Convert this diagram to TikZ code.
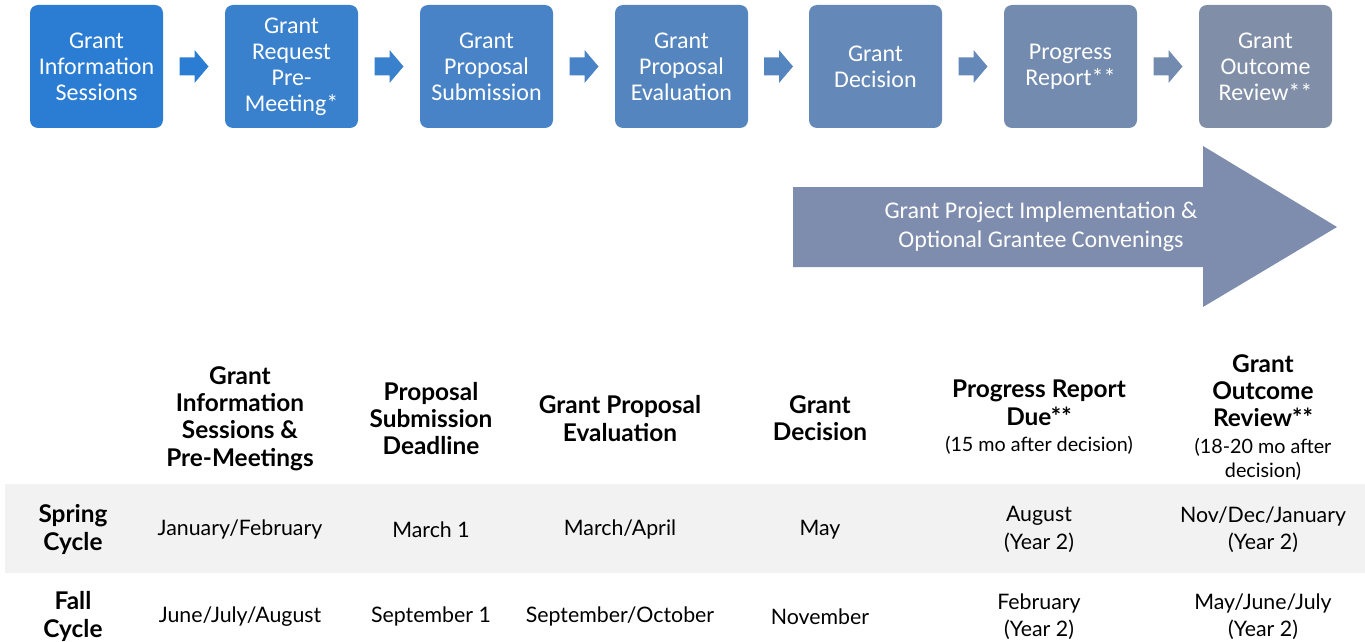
\documentclass[tikz,border=0pt]{standalone}
\usepackage{fontspec}
\setmainfont{Carlito}
\newfontfamily\tabfont{Lato}
\usetikzlibrary{calc}
\definecolor{c1}{RGB}{43,125,212}
\definecolor{c2}{RGB}{57,128,205}
\definecolor{c3}{RGB}{71,131,198}
\definecolor{c4}{RGB}{85,133,190}
\definecolor{c5}{RGB}{100,136,183}
\definecolor{c6}{RGB}{114,139,175}
\definecolor{c7}{RGB}{128,142,168}
\definecolor{bigarrow}{RGB}{126,140,173}
\definecolor{band}{RGB}{242,242,242}
\begin{document}
\begin{tikzpicture}[x=0.75pt,y=-0.75pt,
  stage/.style={fill=#1, rounded corners=6pt, minimum width=99.75pt, minimum height=92.25pt,
    inner sep=0pt, align=center, text=white, font=\fontsize{18}{19.5}\selectfont},
  hd/.style={align=center, inner sep=0pt, font=\tabfont\bfseries\fontsize{18.3}{20.5}\selectfont},
  cell/.style={align=center, inner sep=0pt, font=\tabfont\fontsize{16}{20.5}\selectfont},
  small/.style={font=\tabfont\fontsize{14.8}{18}\selectfont}
]
\useasboundingbox (0,0) rectangle (1365,642);

% stage boxes
\node[stage=c1] (b1) at (96.5,66.5) {Grant\\Information\\Sessions};
\node[stage=c2] (b2) at (291.5,66.5) {Grant\\Request\\Pre-\\Meeting*};
\node[stage=c3] (b3) at (486.5,66.5) {Grant\\Proposal\\Submission};
\node[stage=c4] (b4) at (681.5,66.5) {Grant\\Proposal\\Evaluation};
\node[stage=c5] (b5) at (875.5,66.5) {Grant\\Decision};
\node[stage=c6] (b6) at (1070.5,66.5) {Progress\\Report**};
\node[stage=c7] (b7) at (1265.5,66.5) {Grant\\Outcome\\Review**};

% block arrows between boxes
\foreach \a/\b/\c in {b1/b2/c1,b2/b3/c2,b3/b4/c3,b4/b5/c4,b5/b6/c5,b6/b7/c6}{
  \coordinate (m-\a) at ($(\a.east)!0.5!(\b.west)$);
  \fill[\c] (m-\a) ++(-14.5,-9) -- ++(15,0) -- ++(0,-7.5) -- ++(14,16.5)
     -- ++(-14,16.5) -- ++(0,-7.5) -- ++(-15,0) -- cycle;
}

% big arrow
\fill[bigarrow] (793,187) -- (1203,187) -- (1203,146) -- (1337,227) -- (1203,307)
   -- (1203,267) -- (793,267) -- cycle;
\node[align=center, text=white, font=\fontsize{18}{21.75}\selectfont] (impl) at (1041,226.5)
   {Grant Project Implementation \&\\Optional Grantee Convenings};

% table band
\fill[band] (5,484) rectangle (1365,573);

% headers
\node[hd] (h1) at (240,418.5) {Grant\\Information\\Sessions \&\\Pre-Meetings};
\node[hd] (h2) at (431,418.5) {Proposal\\Submission\\Deadline};
\node[hd] (h3) at (620,418.5) {Grant Proposal\\Evaluation};
\node[hd] (h4) at (820,418.5) {Grant\\Decision};
\node[hd, anchor=north] (h5) at (1039,380) {Progress Report\\Due**};
\node[cell, small, anchor=north] (h5s) at (1039,436) {(15 mo after decision)};
\node[hd, anchor=north] (h6) at (1263,354) {Grant\\Outcome\\Review**};
\node[cell, small, anchor=north] (h6s) at (1263,438) {(18-20 mo after\\decision)};

% row labels
\node[hd] (r1) at (73,529.5) {Spring\\Cycle};
\node[hd] (r2) at (73,616.5) {Fall\\Cycle};

% spring row
\node[cell] (s1) at (240,529.5) {January/February};
\node[cell] (s2) at (431,529.5) {March 1};
\node[cell] (s3) at (620,529.5) {March/April};
\node[cell] (s4) at (820,529.5) {May};
\node[cell] (s5) at (1039,529.5) {August\\(Year 2)};
\node[cell] (s6) at (1263,529.5) {Nov/Dec/January\\(Year 2)};

% fall row
\node[cell] (f1) at (240,616.5) {June/July/August};
\node[cell] (f2) at (431,616.5) {September 1};
\node[cell] (f3) at (620,616.5) {September/October};
\node[cell] (f4) at (820,616.5) {November};
\node[cell] (f5) at (1039,616.5) {February\\(Year 2)};
\node[cell] (f6) at (1263,616.5) {May/June/July\\(Year 2)};
\end{tikzpicture}
\end{document}
